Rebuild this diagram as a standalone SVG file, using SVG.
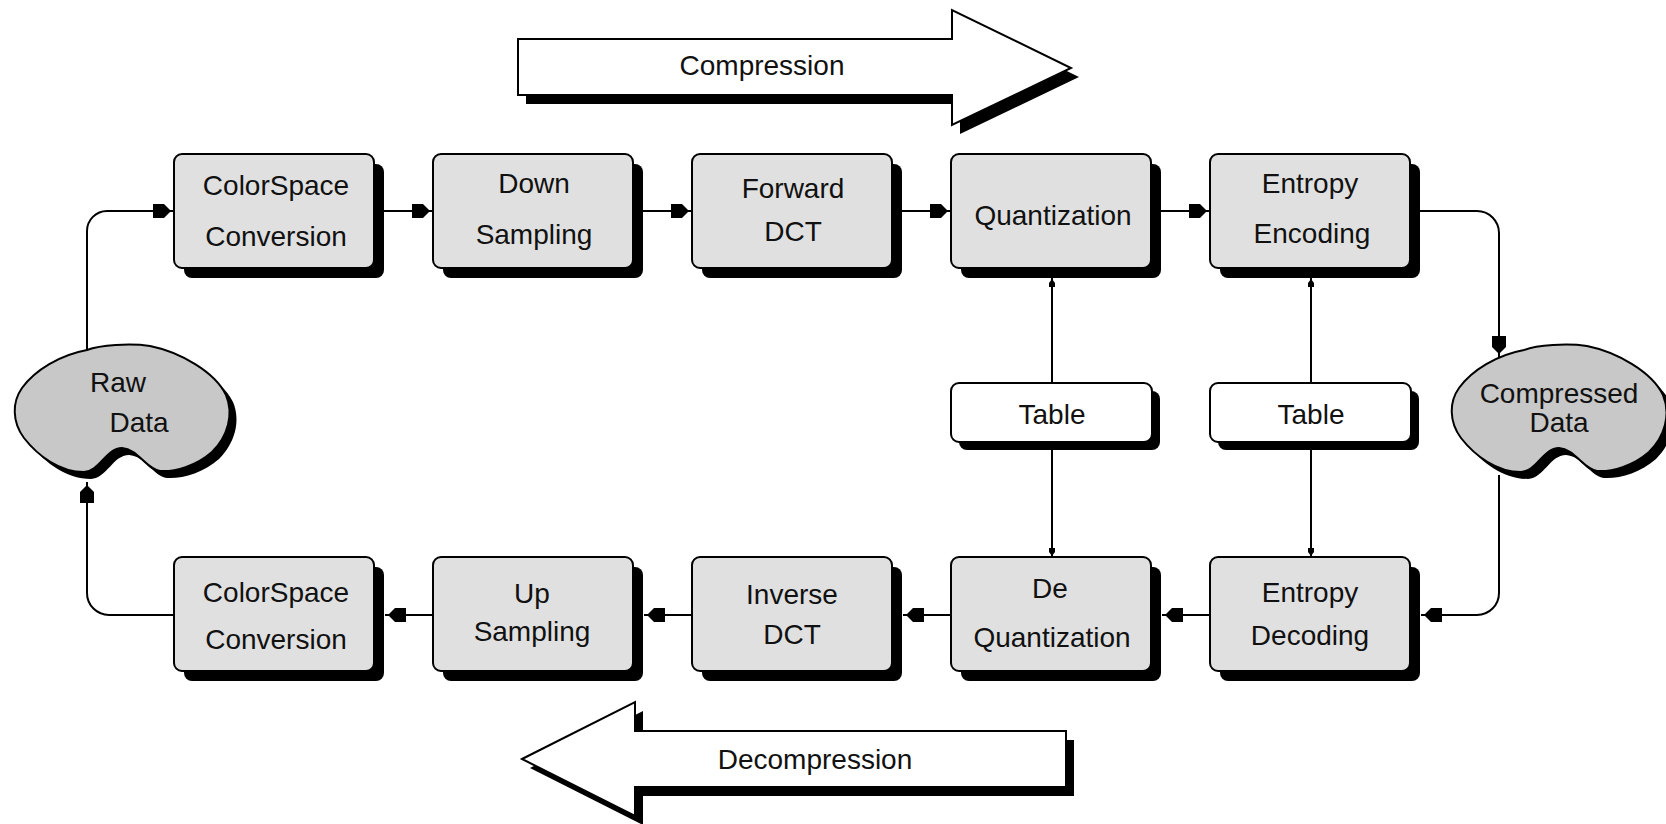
<svg xmlns="http://www.w3.org/2000/svg" width="1666" height="824" viewBox="0 0 1666 824">
<style>
  text { font-family: "Liberation Sans", Arial, sans-serif; font-size: 28px; fill: #111; text-anchor: middle; }
  .box { fill: #e0e0e0; stroke: #000; stroke-width: 2; }
  .tbl { fill: #fff; stroke: #000; stroke-width: 2; }
  .shd { fill: #000; }
  .blob { fill: #c8c8c8; stroke: #000; stroke-width: 2; }
  .big { fill: #fff; stroke: #000; stroke-width: 2; }
  .conn path { fill: none; stroke: #000; stroke-width: 2; }
</style>
<defs>
  <marker id="arr" markerUnits="userSpaceOnUse" viewBox="-22 -8 24 16" markerWidth="24" markerHeight="16" refX="0" refY="0" orient="auto">
    <path d="M-21,-7 L-10,-7 L-3,0 L-10,7 L-21,7 Z" fill="#000"/>
  </marker>
  <marker id="sm" markerUnits="userSpaceOnUse" viewBox="-10 -5 12 10" markerWidth="12" markerHeight="10" refX="0" refY="0" orient="auto">
    <path d="M-9,-3 L-5,-3 L-1,0 L-5,3 L-9,3 Z" fill="#000"/>
  </marker>
  <path id="blobshape" d="M87,350 C100,345 130,343 150,346 C180,352 215,372 226,395 C234,414 228,436 212,452 C196,466 175,472 160,471 C146,469 138,449 122,448 C106,448 100,471 84,472 C60,472 38,456 24,438 C12,422 12,402 22,388 C35,370 60,355 87,350 Z"/>
</defs>
<rect width="1666" height="824" fill="#fff"/>

<g id="compression-arrow">
  <polygon class="shd" points="526,48 960,48 960,19 1079,77 960,134 960,104 526,104"/>
  <polygon class="big" points="518,39 952,39 952,10 1071,68 952,125 952,95 518,95"/>
  <text x="762" y="75">Compression</text>
</g>
<g id="decompression-arrow">
  <polygon class="shd" points="530,768 643,711 643,740 1074,740 1074,796 643,796 643,825"/>
  <polygon class="big" points="522,759 635,702 635,731 1066,731 1066,787 635,787 635,816"/>
  <text x="815" y="769">Decompression</text>
</g>

<g class="conn" id="connectors">
  <path d="M87,350 V231 A20,20 0 0 1 107,211 H174" marker-end="url(#arr)"/>
  <path d="M384,211 H433" marker-end="url(#arr)"/>
  <path d="M643,211 H692" marker-end="url(#arr)"/>
  <path d="M902,211 H951" marker-end="url(#arr)"/>
  <path d="M1161,211 H1210" marker-end="url(#arr)"/>
  <path d="M1420,211 H1477 A22,22 0 0 1 1499,233 V357" marker-end="url(#arr)"/>
  <path d="M1499,475 V593 A22,22 0 0 1 1477,615 H1421" marker-end="url(#arr)"/>
  <path d="M1210,615 H1162" marker-end="url(#arr)"/>
  <path d="M951,615 H903" marker-end="url(#arr)"/>
  <path d="M692,615 H644" marker-end="url(#arr)"/>
  <path d="M433,615 H385" marker-end="url(#arr)"/>
  <path d="M174,615 H109 A22,22 0 0 1 87,593 V482" marker-end="url(#arr)"/>
  <path d="M1052,383 V278" marker-end="url(#sm)"/>
  <path d="M1052,450 V557" marker-end="url(#sm)"/>
  <path d="M1311,383 V278" marker-end="url(#sm)"/>
  <path d="M1311,450 V557" marker-end="url(#sm)"/>
</g>

<g id="raw-data">
  <use href="#blobshape" class="shd" transform="translate(7,7)"/>
  <use href="#blobshape" class="blob"/>
  <text x="118" y="392">Raw</text>
  <text x="139" y="432">Data</text>
</g>
<g id="compressed-data">
  <use href="#blobshape" class="shd" transform="translate(1444,7)"/>
  <use href="#blobshape" class="blob" transform="translate(1437,0)"/>
  <text x="1559" y="403">Compressed</text>
  <text x="1559" y="432">Data</text>
</g>

<g id="colorspace-conversion-top">
  <rect class="shd" x="184" y="164" width="200" height="114" rx="8"/>
  <rect class="box" x="174" y="154" width="200" height="114" rx="8"/>
  <text x="276" y="195">ColorSpace</text>
  <text x="276" y="246">Conversion</text>
</g>
<g id="down-sampling">
  <rect class="shd" x="443" y="164" width="200" height="114" rx="8"/>
  <rect class="box" x="433" y="154" width="200" height="114" rx="8"/>
  <text x="534" y="193">Down</text>
  <text x="534" y="244">Sampling</text>
</g>
<g id="forward-dct">
  <rect class="shd" x="702" y="164" width="200" height="114" rx="8"/>
  <rect class="box" x="692" y="154" width="200" height="114" rx="8"/>
  <text x="793" y="198">Forward</text>
  <text x="793" y="241">DCT</text>
</g>
<g id="quantization">
  <rect class="shd" x="961" y="164" width="200" height="114" rx="8"/>
  <rect class="box" x="951" y="154" width="200" height="114" rx="8"/>
  <text x="1053" y="225">Quantization</text>
</g>
<g id="entropy-encoding">
  <rect class="shd" x="1220" y="164" width="200" height="114" rx="8"/>
  <rect class="box" x="1210" y="154" width="200" height="114" rx="8"/>
  <text x="1310" y="193">Entropy</text>
  <text x="1312" y="243">Encoding</text>
</g>

<g id="table-1">
  <rect class="shd" x="959" y="391" width="201" height="59" rx="8"/>
  <rect class="tbl" x="951" y="383" width="201" height="59" rx="8"/>
  <text x="1052" y="424">Table</text>
</g>
<g id="table-2">
  <rect class="shd" x="1218" y="391" width="201" height="59" rx="8"/>
  <rect class="tbl" x="1210" y="383" width="201" height="59" rx="8"/>
  <text x="1311" y="424">Table</text>
</g>

<g id="colorspace-conversion-bottom">
  <rect class="shd" x="184" y="567" width="200" height="114" rx="8"/>
  <rect class="box" x="174" y="557" width="200" height="114" rx="8"/>
  <text x="276" y="602">ColorSpace</text>
  <text x="276" y="649">Conversion</text>
</g>
<g id="up-sampling">
  <rect class="shd" x="443" y="567" width="200" height="114" rx="8"/>
  <rect class="box" x="433" y="557" width="200" height="114" rx="8"/>
  <text x="532" y="603">Up</text>
  <text x="532" y="641">Sampling</text>
</g>
<g id="inverse-dct">
  <rect class="shd" x="702" y="567" width="200" height="114" rx="8"/>
  <rect class="box" x="692" y="557" width="200" height="114" rx="8"/>
  <text x="792" y="604">Inverse</text>
  <text x="792" y="644">DCT</text>
</g>
<g id="de-quantization">
  <rect class="shd" x="961" y="567" width="200" height="114" rx="8"/>
  <rect class="box" x="951" y="557" width="200" height="114" rx="8"/>
  <text x="1050" y="598">De</text>
  <text x="1052" y="647">Quantization</text>
</g>
<g id="entropy-decoding">
  <rect class="shd" x="1220" y="567" width="200" height="114" rx="8"/>
  <rect class="box" x="1210" y="557" width="200" height="114" rx="8"/>
  <text x="1310" y="602">Entropy</text>
  <text x="1310" y="645">Decoding</text>
</g>
</svg>
